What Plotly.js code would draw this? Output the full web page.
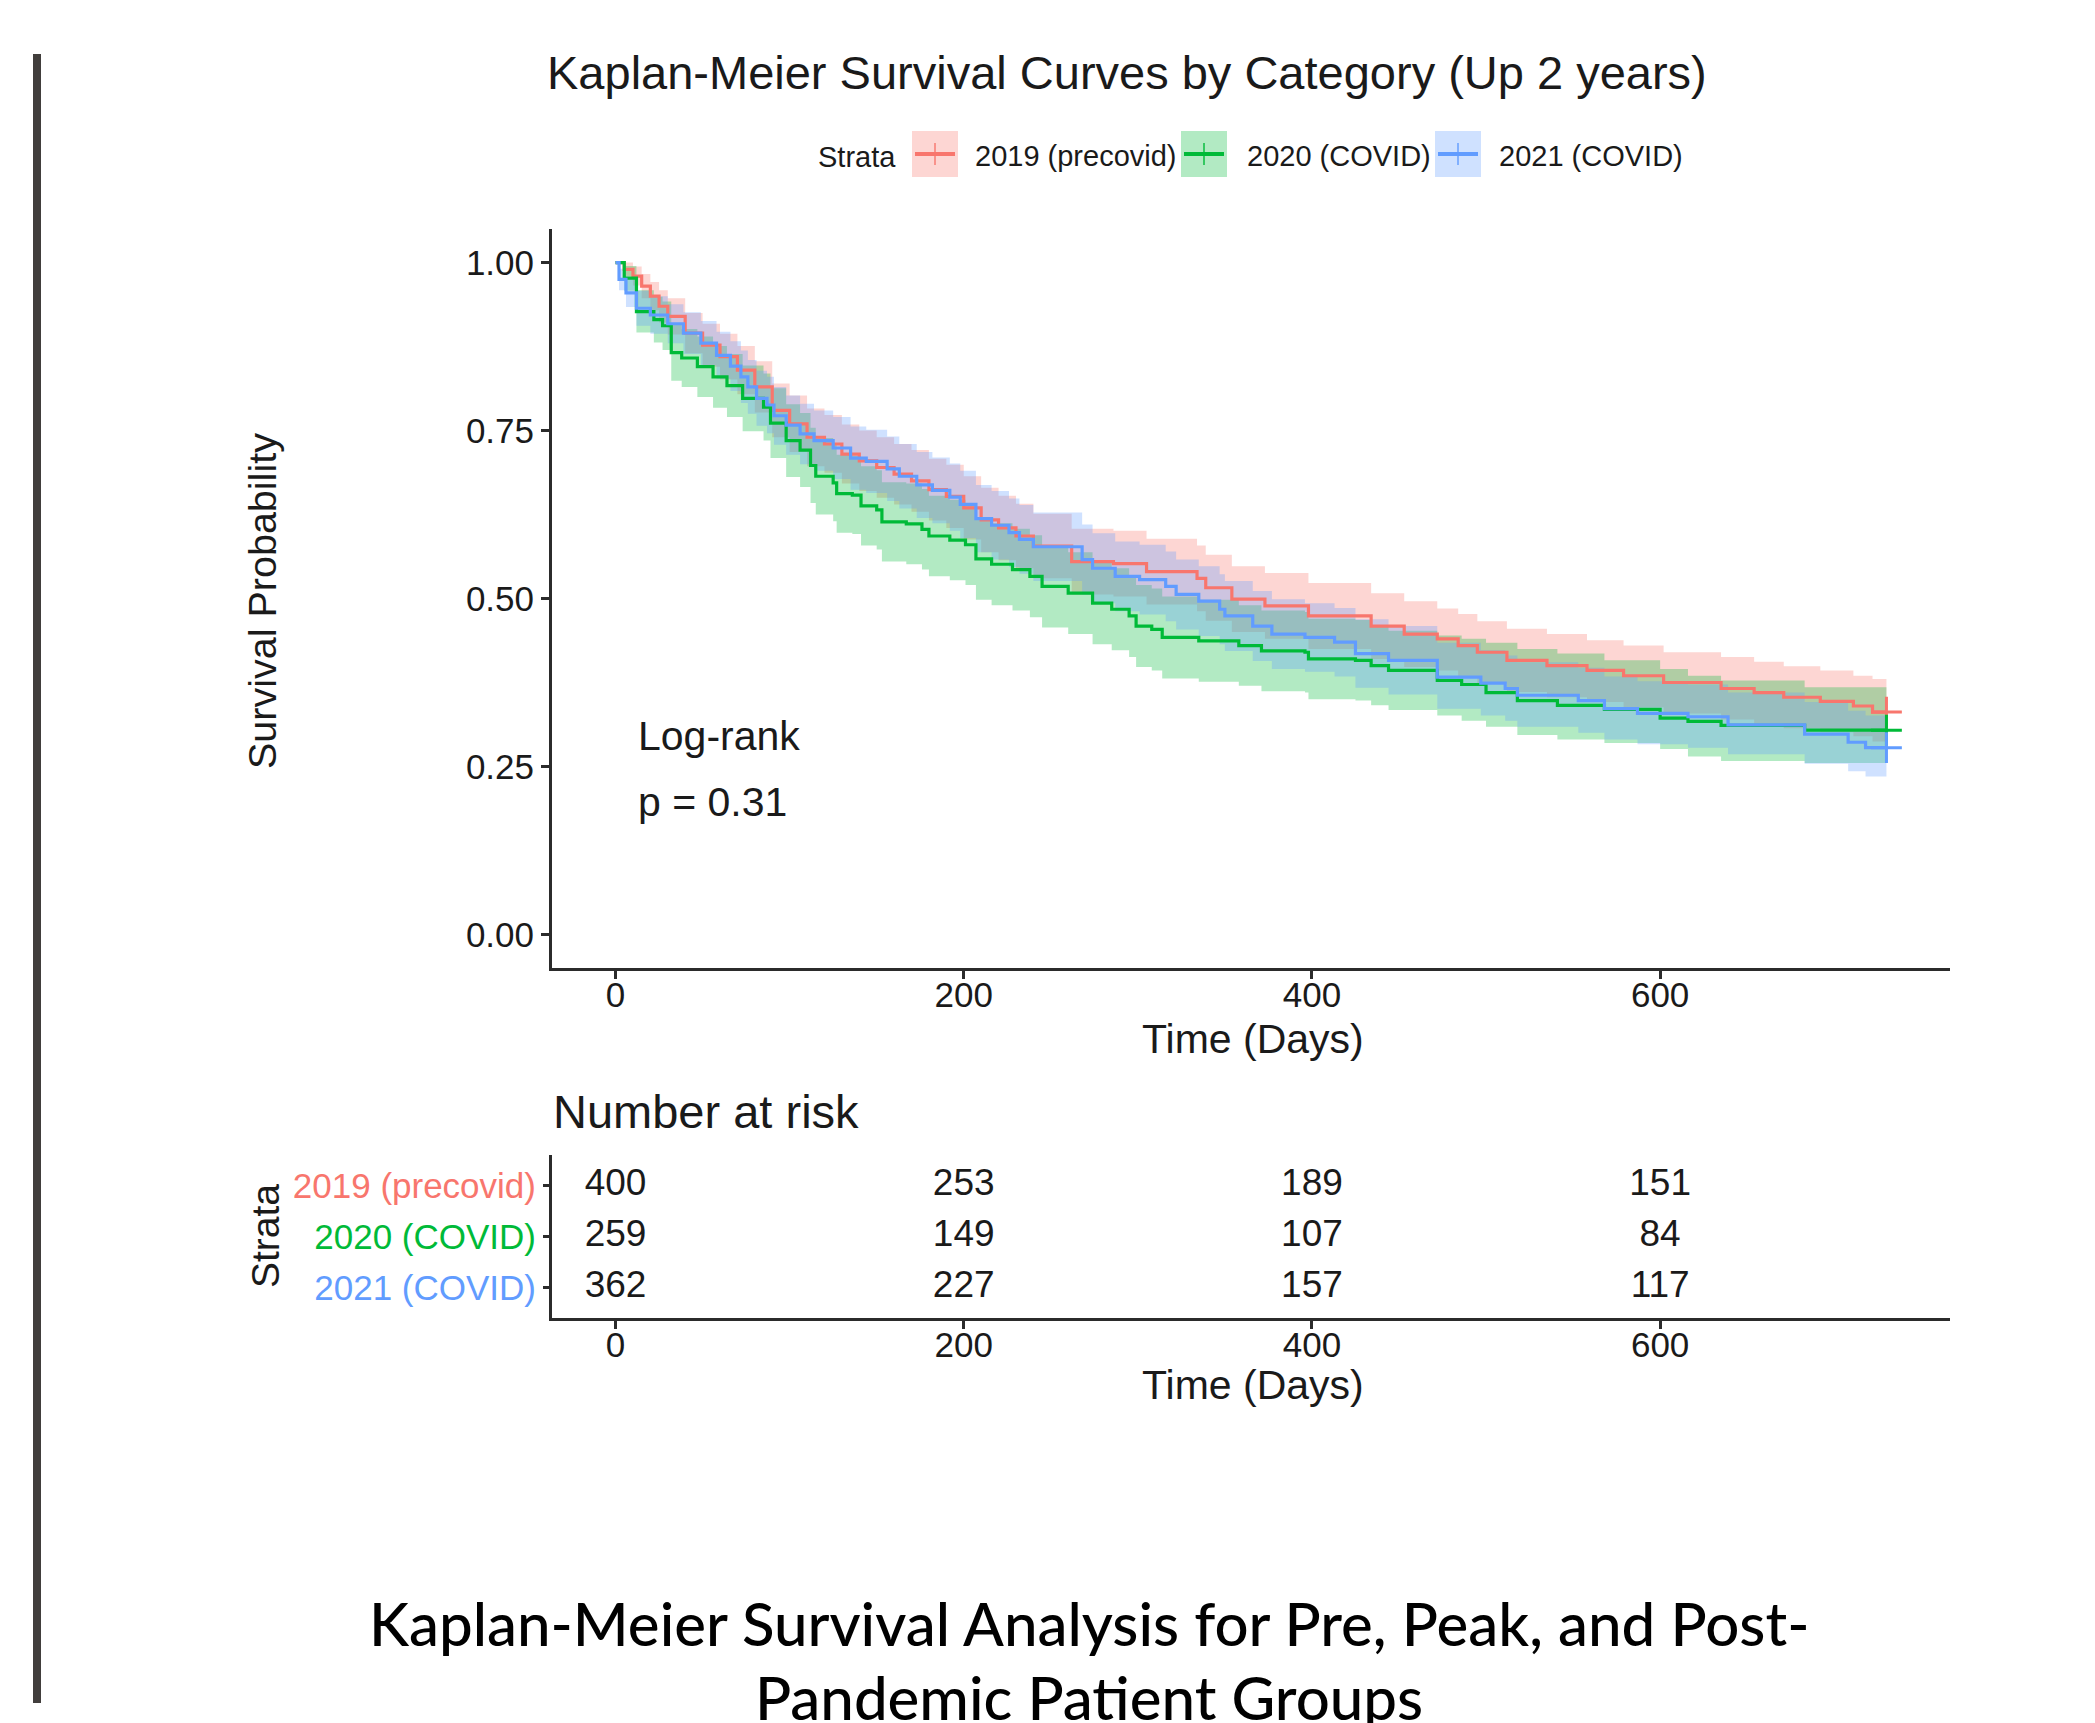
<!DOCTYPE html>
<html>
<head>
<meta charset="utf-8">
<script src="https://cdn.plot.ly/plotly-3.0.1.min.js"></script>
<style>
  html, body { margin: 0; padding: 0; background: #ffffff; }
  #chart { width: 2095px; height: 1723px; }
</style>
</head>
<body>
<div id="chart"></div>
<script>
// ---------------- DATA ----------------
const strata = ["2019 (precovid)", "2020 (COVID)", "2021 (COVID)"];
const strataColors = ["#F8766D", "#00BA38", "#619CFF"];
const bandColors = ["rgba(248,118,109,0.30)", "rgba(0,186,56,0.30)", "rgba(97,156,255,0.30)"];

// 2019 (precovid) Kaplan-Meier estimate with 95% CI
const time2019 = [0, 5, 10, 15, 20, 25, 30, 40, 50, 60, 70, 80, 90, 100, 110, 120, 130, 140, 150, 160, 170, 180, 190, 200, 210, 220, 230, 240, 262, 286, 305, 334, 339, 354, 373, 398, 434, 453, 472, 484, 495, 512, 535, 558, 579, 602, 635, 654, 671, 692, 711, 722, 730];
const surv2019 = [1.000, 0.990, 0.980, 0.965, 0.950, 0.935, 0.920, 0.895, 0.877, 0.860, 0.840, 0.815, 0.780, 0.760, 0.740, 0.730, 0.715, 0.705, 0.695, 0.685, 0.675, 0.662, 0.652, 0.635, 0.617, 0.605, 0.593, 0.578, 0.555, 0.552, 0.540, 0.530, 0.516, 0.499, 0.489, 0.474, 0.459, 0.447, 0.440, 0.430, 0.420, 0.408, 0.400, 0.393, 0.385, 0.375, 0.366, 0.360, 0.353, 0.347, 0.340, 0.331, 0.331];
const lower2019 = [1.000, 0.980, 0.966, 0.947, 0.929, 0.911, 0.893, 0.865, 0.845, 0.826, 0.804, 0.777, 0.740, 0.718, 0.697, 0.687, 0.671, 0.660, 0.650, 0.640, 0.629, 0.616, 0.605, 0.588, 0.569, 0.557, 0.545, 0.530, 0.506, 0.503, 0.491, 0.481, 0.467, 0.450, 0.440, 0.425, 0.410, 0.398, 0.393, 0.383, 0.373, 0.361, 0.353, 0.346, 0.338, 0.329, 0.320, 0.314, 0.307, 0.301, 0.295, 0.287, 0.287];
const upper2019 = [1.000, 1.000, 0.994, 0.983, 0.971, 0.959, 0.947, 0.925, 0.909, 0.894, 0.876, 0.853, 0.820, 0.802, 0.783, 0.773, 0.759, 0.750, 0.740, 0.730, 0.721, 0.708, 0.699, 0.682, 0.665, 0.653, 0.641, 0.626, 0.604, 0.601, 0.589, 0.579, 0.565, 0.548, 0.538, 0.523, 0.508, 0.496, 0.485, 0.477, 0.466, 0.455, 0.447, 0.438, 0.430, 0.420, 0.413, 0.406, 0.399, 0.393, 0.385, 0.380, 0.380];

// 2020 (COVID)
const time2020 = [0, 5, 12, 22, 27, 32, 38, 47, 56, 64, 73, 85, 89, 98, 106, 112, 115, 125, 127, 136, 141, 150, 153, 167, 176, 180, 192, 201, 207, 216, 228, 238, 245, 260, 274, 285, 295, 299, 308, 314, 335, 358, 371, 396, 398, 425, 434, 444, 472, 486, 500, 518, 541, 568, 600, 616, 635, 683, 730];
const surv2020 = [1.000, 0.977, 0.927, 0.915, 0.906, 0.866, 0.858, 0.845, 0.830, 0.817, 0.798, 0.785, 0.761, 0.735, 0.721, 0.698, 0.682, 0.672, 0.656, 0.654, 0.638, 0.632, 0.614, 0.611, 0.603, 0.593, 0.587, 0.580, 0.559, 0.551, 0.543, 0.533, 0.518, 0.508, 0.493, 0.484, 0.474, 0.459, 0.454, 0.442, 0.437, 0.430, 0.422, 0.420, 0.410, 0.408, 0.400, 0.393, 0.378, 0.372, 0.360, 0.348, 0.341, 0.335, 0.322, 0.317, 0.311, 0.304, 0.304];
const lower2020 = [1.000, 0.958, 0.896, 0.881, 0.870, 0.824, 0.815, 0.800, 0.784, 0.770, 0.749, 0.735, 0.709, 0.681, 0.666, 0.642, 0.625, 0.615, 0.598, 0.596, 0.579, 0.573, 0.555, 0.551, 0.543, 0.533, 0.527, 0.520, 0.498, 0.490, 0.482, 0.472, 0.457, 0.447, 0.432, 0.423, 0.413, 0.398, 0.393, 0.381, 0.376, 0.370, 0.362, 0.360, 0.350, 0.348, 0.341, 0.334, 0.326, 0.318, 0.309, 0.297, 0.290, 0.285, 0.276, 0.265, 0.258, 0.255, 0.255];
const upper2020 = [1.000, 0.995, 0.959, 0.949, 0.942, 0.908, 0.901, 0.890, 0.876, 0.864, 0.847, 0.835, 0.813, 0.789, 0.776, 0.754, 0.739, 0.729, 0.714, 0.712, 0.697, 0.691, 0.673, 0.671, 0.663, 0.653, 0.647, 0.640, 0.620, 0.612, 0.604, 0.594, 0.579, 0.569, 0.554, 0.545, 0.535, 0.520, 0.515, 0.503, 0.498, 0.490, 0.482, 0.480, 0.470, 0.468, 0.459, 0.452, 0.445, 0.440, 0.434, 0.425, 0.418, 0.408, 0.395, 0.385, 0.378, 0.368, 0.362];

// 2021 (COVID)
const time2021 = [0, 2, 6, 12, 20, 30, 39, 49, 58, 66, 72, 76, 81, 87, 91, 98, 106, 114, 125, 135, 144, 156, 163, 173, 182, 192, 198, 207, 216, 226, 232, 240, 268, 274, 287, 301, 316, 322, 335, 347, 350, 366, 377, 396, 413, 425, 444, 472, 497, 511, 518, 553, 568, 587, 616, 639, 683, 708, 718, 730];
const surv2021 = [1.000, 0.975, 0.955, 0.932, 0.922, 0.909, 0.895, 0.880, 0.862, 0.846, 0.830, 0.815, 0.798, 0.788, 0.772, 0.758, 0.745, 0.735, 0.724, 0.709, 0.704, 0.693, 0.682, 0.669, 0.661, 0.651, 0.640, 0.619, 0.609, 0.598, 0.588, 0.577, 0.558, 0.545, 0.533, 0.528, 0.518, 0.506, 0.496, 0.484, 0.474, 0.459, 0.447, 0.442, 0.435, 0.418, 0.408, 0.383, 0.374, 0.366, 0.356, 0.348, 0.336, 0.329, 0.324, 0.312, 0.298, 0.286, 0.278, 0.278];
const lower2021 = [1.000, 0.959, 0.934, 0.906, 0.894, 0.880, 0.864, 0.847, 0.827, 0.809, 0.791, 0.775, 0.757, 0.746, 0.729, 0.714, 0.700, 0.690, 0.678, 0.662, 0.657, 0.645, 0.634, 0.620, 0.612, 0.601, 0.590, 0.569, 0.558, 0.547, 0.537, 0.526, 0.506, 0.493, 0.481, 0.476, 0.466, 0.454, 0.444, 0.432, 0.422, 0.407, 0.395, 0.391, 0.384, 0.367, 0.357, 0.336, 0.326, 0.318, 0.309, 0.300, 0.290, 0.283, 0.278, 0.268, 0.254, 0.243, 0.235, 0.233];
const upper2021 = [1.000, 0.991, 0.976, 0.958, 0.950, 0.938, 0.926, 0.913, 0.897, 0.883, 0.869, 0.855, 0.839, 0.830, 0.815, 0.802, 0.790, 0.780, 0.770, 0.756, 0.751, 0.741, 0.730, 0.718, 0.710, 0.701, 0.690, 0.669, 0.660, 0.649, 0.639, 0.628, 0.610, 0.597, 0.585, 0.580, 0.570, 0.558, 0.548, 0.536, 0.526, 0.511, 0.499, 0.493, 0.486, 0.469, 0.459, 0.434, 0.423, 0.415, 0.405, 0.397, 0.384, 0.377, 0.372, 0.360, 0.346, 0.333, 0.326, 0.323];

// Number at risk table
const riskTimes = [0, 200, 400, 600];
const risk2019 = [400, 253, 189, 151];
const risk2020 = [259, 149, 107, 84];
const risk2021 = [362, 227, 157, 117];

const xTicks = [0, 200, 400, 600];
const yTicks = [0, 0.25, 0.5, 0.75, 1.0];
const yTickLabels = ["0.00", "0.25", "0.50", "0.75", "1.00"];

const chartTitle = "Kaplan-Meier Survival Curves by Category (Up 2 years)";
const xTitle = "Time (Days)";
const yTitle = "Survival Probability";
const legendTitle = "Strata";
const pvalLines = ["Log-rank", "p = 0.31"];
const riskTitle = "Number at risk";
const captionLines = ["Kaplan-Meier Survival Analysis for Pre, Peak, and Post-", "Pandemic Patient Groups"];

// ---------------- LAYOUT HELPERS ----------------
const W = 2095, H = 1723;
const px = v => v / W;
const py = v => 1 - v / H;
const FONT = "Liberation Sans, Arial, sans-serif";
const TXT = "#1a1a1a";
const AX = "#2b2b2b";

const groups = [
  {t: time2019, s: surv2019, lo: lower2019, up: upper2019},
  {t: time2020, s: surv2020, lo: lower2020, up: upper2020},
  {t: time2021, s: surv2021, lo: lower2021, up: upper2021}
];

const traces = [];
// confidence bands
groups.forEach((g, i) => {
  traces.push({x: g.t, y: g.lo, type: "scatter", mode: "lines", line: {width: 0, shape: "hv"},
               hoverinfo: "skip", showlegend: false, xaxis: "x", yaxis: "y"});
  traces.push({x: g.t, y: g.up, type: "scatter", mode: "lines", line: {width: 0, shape: "hv"},
               fill: "tonexty", fillcolor: bandColors[i], hoverinfo: "skip", showlegend: false, xaxis: "x", yaxis: "y"});
});
// survival curves
groups.forEach((g, i) => {
  traces.push({x: g.t, y: g.s, type: "scatter", mode: "lines", name: strata[i],
               line: {color: strataColors[i], width: 3.2, shape: "hv"}, showlegend: false, xaxis: "x", yaxis: "y"});
});
// censor marks at end of follow-up
groups.forEach((g, i) => {
  const n = g.t.length - 1;
  traces.push({x: [g.t[n]], y: [g.s[n]], type: "scatter", mode: "markers",
               marker: {symbol: "cross-thin", size: 22, line: {color: strataColors[i], width: 3}},
               showlegend: false, hoverinfo: "skip", xaxis: "x", yaxis: "y"});
});
// risk table numbers
const riskRows = [risk2019, risk2020, risk2021];
riskRows.forEach((r, i) => {
  traces.push({x: riskTimes, y: riskTimes.map(() => 3 - i), text: r.map(String), type: "scatter", mode: "text",
               textfont: {family: FONT, size: 37, color: TXT}, textposition: "middle center",
               showlegend: false, hoverinfo: "skip", xaxis: "x2", yaxis: "y2"});
});

const axisCommon = {
  showline: true, linecolor: AX, linewidth: 3, ticks: "outside", ticklen: 8, tickwidth: 3,
  tickcolor: AX, showgrid: false, zeroline: false, tickfont: {family: FONT, size: 35, color: TXT}, fixedrange: true
};

const xDomain = [px(552), px(1950)];
const layout = {
  width: W, height: H,
  margin: {l: 0, r: 0, t: 0, b: 0},
  paper_bgcolor: "#ffffff", plot_bgcolor: "#ffffff",
  showlegend: false,
  xaxis: Object.assign({}, axisCommon, {domain: xDomain, anchor: "y", range: [-36.5, 766.5], tickvals: xTicks, ticklabelstandoff: -14}),
  yaxis: Object.assign({}, axisCommon, {domain: [py(968), py(229)], anchor: "x", range: [-0.05, 1.05],
          tickvals: yTicks, ticktext: yTickLabels}),
  xaxis2: Object.assign({}, axisCommon, {domain: xDomain, anchor: "y2", range: [-36.5, 766.5], tickvals: xTicks, ticklabelstandoff: -14}),
  yaxis2: Object.assign({}, axisCommon, {domain: [py(1318), py(1155)], anchor: "x2", range: [0.4, 3.6],
          tickvals: [3, 2, 1], ticklen: 6,
          ticktext: strata.map((s, i) => `<span style="color:${strataColors[i]}">${s}</span>`)}),
  shapes: [],
  annotations: []
};

// left decorative bar
layout.shapes.push({type: "rect", xref: "paper", yref: "paper", x0: px(33), x1: px(41), y0: py(1703), y1: py(54),
                    fillcolor: "#413e3c", line: {width: 0}});

// legend (drawn manually)
const legendKeys = [912, 1181, 1435];
const legendText = [973, 1245, 1497];
const keyW = 46, keyTop = 131, keyBot = 177, keyMid = 154;
strata.forEach((s, i) => {
  const x0 = legendKeys[i];
  layout.shapes.push({type: "rect", xref: "paper", yref: "paper", x0: px(x0), x1: px(x0 + keyW), y0: py(keyBot), y1: py(keyTop),
                      fillcolor: bandColors[i], line: {width: 0}});
  layout.shapes.push({type: "line", xref: "paper", yref: "paper", x0: px(x0 + 3), x1: px(x0 + keyW - 3), y0: py(keyMid), y1: py(keyMid),
                      line: {color: strataColors[i], width: 4}});
  layout.shapes.push({type: "line", xref: "paper", yref: "paper", x0: px(x0 + keyW / 2), x1: px(x0 + keyW / 2), y0: py(keyMid + 11), y1: py(keyMid - 11),
                      line: {color: strataColors[i], width: 2}, opacity: 0.7});
  layout.annotations.push({text: s, xref: "paper", yref: "paper", x: px(legendText[i]), y: py(156), xanchor: "left", yanchor: "middle",
                           showarrow: false, font: {family: FONT, size: 29, color: TXT}});
});
layout.annotations.push({text: legendTitle, xref: "paper", yref: "paper", x: px(857), y: py(157), xanchor: "center", yanchor: "middle",
                         showarrow: false, font: {family: FONT, size: 29, color: TXT}});

// titles & labels
layout.annotations.push({text: chartTitle, xref: "paper", yref: "paper", x: px(1127), y: py(73), xanchor: "center", yanchor: "middle",
                         showarrow: false, font: {family: FONT, size: 47, color: TXT}});
layout.annotations.push({text: yTitle, xref: "paper", yref: "paper", x: px(262), y: py(601), xanchor: "center", yanchor: "middle",
                         textangle: -90, showarrow: false, font: {family: FONT, size: 39.5, color: TXT}});
layout.annotations.push({text: xTitle, xref: "paper", yref: "paper", x: px(1253), y: py(1039), xanchor: "center", yanchor: "middle",
                         showarrow: false, font: {family: FONT, size: 41, color: TXT}});
layout.annotations.push({text: pvalLines[0], xref: "paper", yref: "paper", x: px(636), y: py(736), xanchor: "left", yanchor: "middle",
                         showarrow: false, font: {family: FONT, size: 41, color: TXT}});
layout.annotations.push({text: pvalLines[1], xref: "paper", yref: "paper", x: px(636), y: py(802), xanchor: "left", yanchor: "middle",
                         showarrow: false, font: {family: FONT, size: 41, color: TXT}});
layout.annotations.push({text: riskTitle, xref: "paper", yref: "paper", x: px(551), y: py(1111), xanchor: "left", yanchor: "middle",
                         showarrow: false, font: {family: FONT, size: 47, color: TXT}});
layout.annotations.push({text: legendTitle, xref: "paper", yref: "paper", x: px(265), y: py(1236), xanchor: "center", yanchor: "middle",
                         textangle: -90, showarrow: false, font: {family: FONT, size: 39, color: TXT}});
layout.annotations.push({text: xTitle, xref: "paper", yref: "paper", x: px(1253), y: py(1385), xanchor: "center", yanchor: "middle",
                         showarrow: false, font: {family: FONT, size: 41, color: TXT}});
// caption
layout.annotations.push({text: captionLines[0], xref: "paper", yref: "paper", x: px(1089), y: py(1623), xanchor: "center", yanchor: "middle",
                         showarrow: false, font: {family: "Lato, sans-serif", size: 60, color: "#000000", weight: 500}});
layout.annotations.push({text: captionLines[1], xref: "paper", yref: "paper", x: px(1089), y: py(1697), xanchor: "center", yanchor: "middle",
                         showarrow: false, font: {family: "Lato, sans-serif", size: 60, color: "#000000", weight: 500}});

Plotly.newPlot("chart", traces, layout, {staticPlot: true, displayModeBar: false});
</script>
</body>
</html>
